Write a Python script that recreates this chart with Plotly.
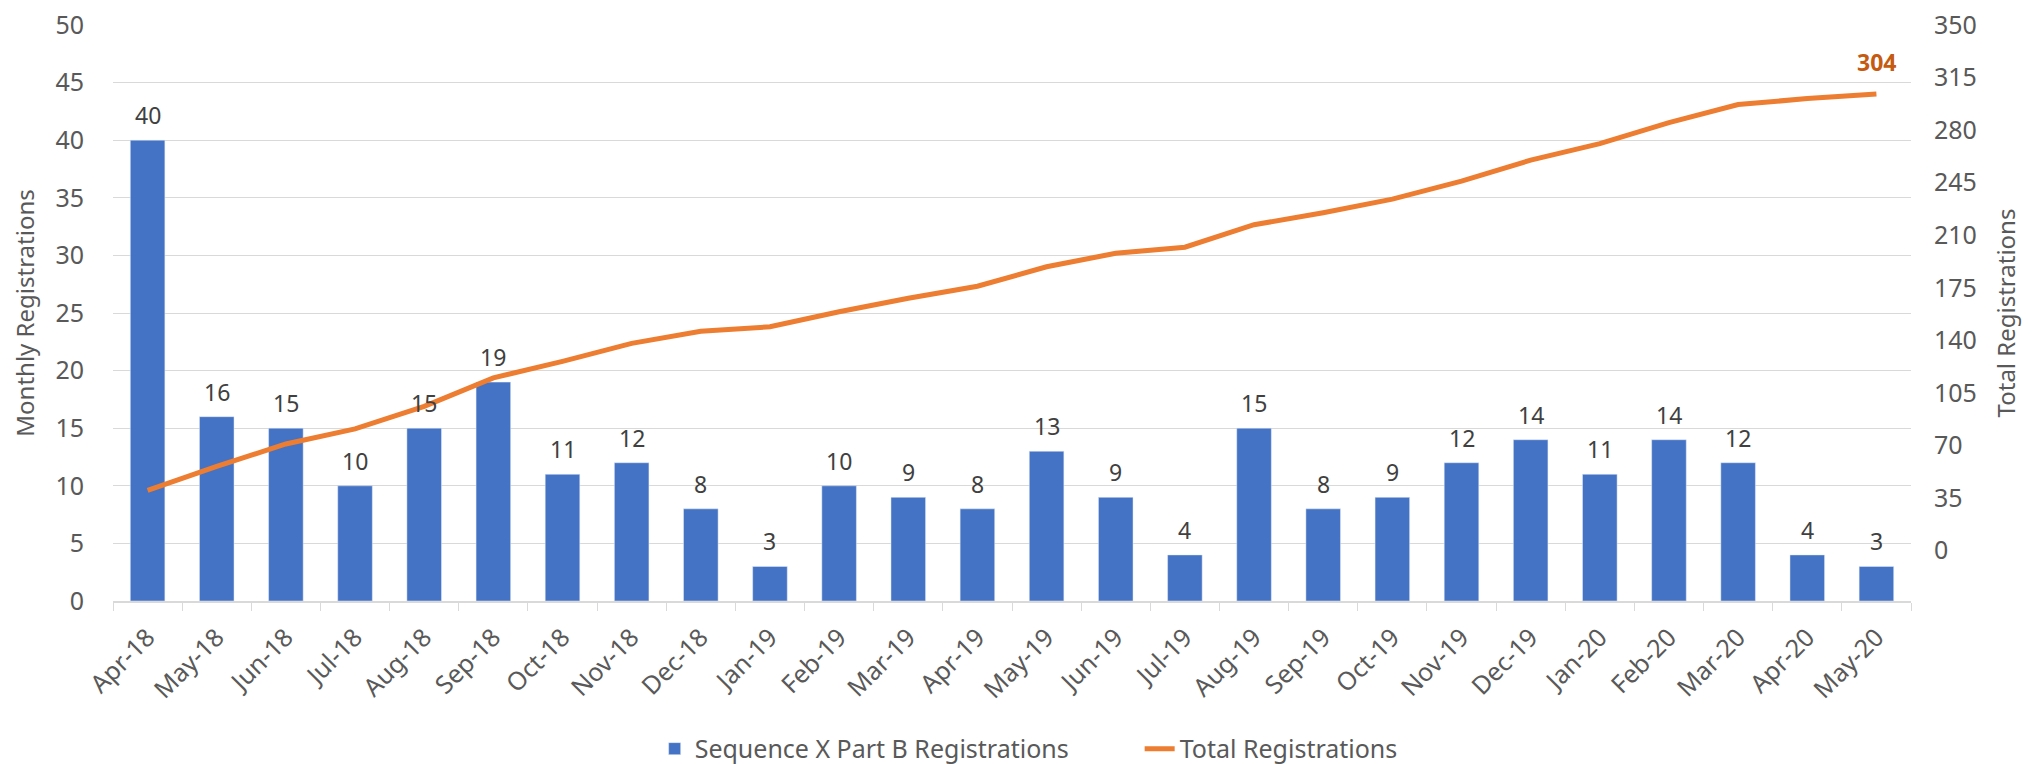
import plotly.graph_objects as go

# monthly registrations
months = [
    "Apr-18", "May-18", "Jun-18", "Jul-18", "Aug-18", "Sep-18", "Oct-18",
    "Nov-18", "Dec-18", "Jan-19", "Feb-19", "Mar-19", "Apr-19", "May-19",
    "Jun-19", "Jul-19", "Aug-19", "Sep-19", "Oct-19", "Nov-19", "Dec-19",
    "Jan-20", "Feb-20", "Mar-20", "Apr-20", "May-20",
]
monthly = [40, 16, 15, 10, 15, 19, 11, 12, 8, 3, 10, 9, 8, 13, 9, 4, 15, 8,
           9, 12, 14, 11, 14, 12, 4, 3]
totals = [40, 56, 71, 81, 96, 115, 126, 138, 146, 149, 159, 168, 176, 189,
          198, 202, 217, 225, 234, 246, 260, 271, 285, 297, 301, 304]
right_ticks = [0, 35, 70, 105, 140, 175, 210, 245, 280, 315, 350]

BLUE = "#4472C4"
ORANGE = "#ED7D31"
GREY = "#595959"
FONT = "Noto Sans, Open Sans, sans-serif"
FS = 24

fig = go.Figure()
fig.add_trace(go.Bar(
    x=months, y=monthly, name="Sequence X Part B Registrations",
    marker_color=BLUE, yaxis="y",
))
fig.add_trace(go.Scatter(
    x=months, y=totals, name="Total Registrations", mode="lines",
    line=dict(color=ORANGE, width=5), yaxis="y2",
))

# bar value labels
for m, v in zip(months, monthly):
    fig.add_annotation(
        x=m, y=v, xref="x", yref="y", text=str(v), showarrow=False,
        yanchor="middle", yshift=25,
        font=dict(family=FONT, size=FS - 1, color="#404040"),
    )
# last total label
fig.add_annotation(
    x=months[-1], y=totals[-1], xref="x", yref="y2", text="<b>304</b>",
    showarrow=False, yanchor="middle", yshift=32,
    font=dict(family=FONT, size=FS - 1, color="#C55A11"),
)

# page body has an 8px margin, so the figure is 8px smaller than the window
fig.update_layout(
    width=2028, height=756,
    margin=dict(l=105, r=125, t=17, b=163),
    paper_bgcolor="white", plot_bgcolor="white",
    bargap=0.5,
    showlegend=True,
    legend=dict(
        orientation="h", x=0.571, xanchor="center",
        yref="container", y=0.02, yanchor="middle",
        font=dict(family=FONT, size=FS + 1, color=GREY),
        entrywidth=440, traceorder="normal",
    ),
    xaxis=dict(
        type="category", tickangle=-45, automargin=False,
        tickfont=dict(family=FONT, size=FS + 1, color=GREY),
        showline=True, linecolor="#D9D9D9", linewidth=1.5,
        ticks="outside", tickson="boundaries", ticklen=8, tickcolor="#D9D9D9",
        ticklabelstandoff=10,
        showgrid=False,
    ),
    yaxis=dict(
        range=[0, 50], dtick=5, automargin=False,
        tickfont=dict(family=FONT, size=FS + 1, color=GREY),
        ticklabelstandoff=28, ticklabeloverflow="allow",
        title=dict(text="Monthly Registrations",
                   font=dict(family=FONT, size=FS, color=GREY), standoff=18),
        showgrid=True, gridcolor="#D9D9D9", gridwidth=1.3,
        zeroline=False, showline=False, ticks="",
    ),
    yaxis2=dict(
        overlaying="y", side="right", range=[-33.6, 350], automargin=False,
        tickvals=right_ticks,
        tickfont=dict(family=FONT, size=FS + 1, color=GREY),
        ticklabelstandoff=22, ticklabeloverflow="allow",
        title=dict(text="Total Registrations",
                   font=dict(family=FONT, size=FS, color=GREY), standoff=22),
        showgrid=False, zeroline=False, showline=False, ticks="",
    ),
)

fig.write_html("out.html")
